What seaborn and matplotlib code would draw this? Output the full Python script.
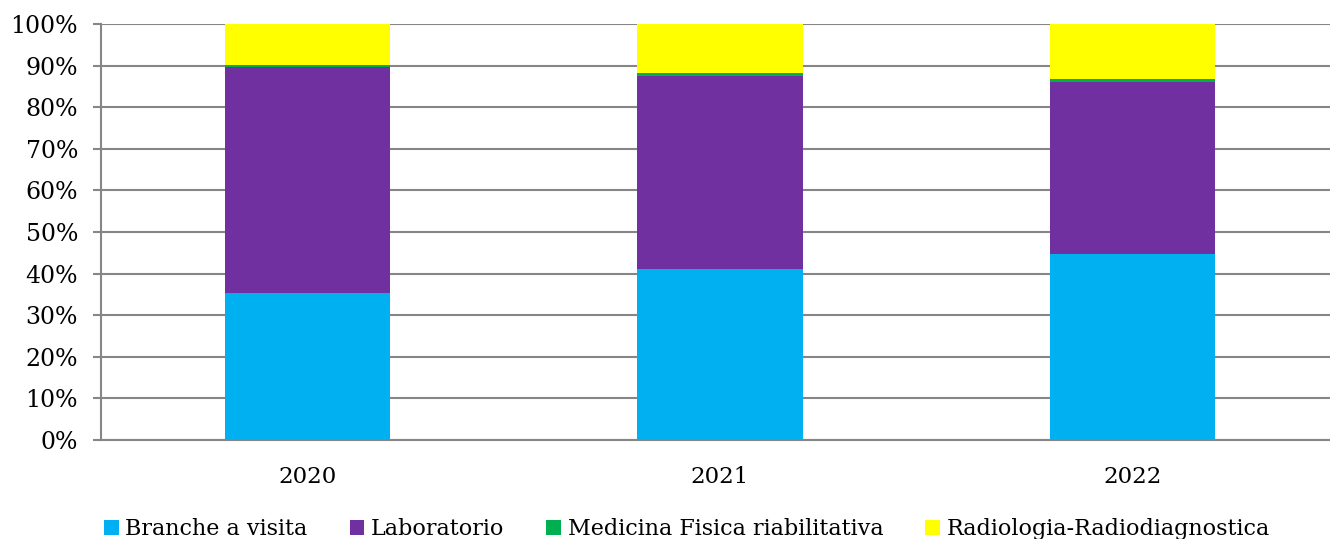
import matplotlib
matplotlib.use("Agg")
import matplotlib.pyplot as plt
import seaborn as sns
import numpy as np
import pandas as pd
from matplotlib.patches import Patch
from matplotlib.ticker import FixedLocator, PercentFormatter

years = ["2020", "2021", "2022"]
series = ["Branche a visita", "Laboratorio", "Medicina Fisica riabilitativa", "Radiologia-Radiodiagnostica"]
branche = [35.3, 41.1, 44.7]
laboratorio = [54.4, 46.5, 41.3]
medicina = [0.5, 0.6, 0.7]
radiologia = [9.8, 11.8, 13.3]
colors = ["#00B0F0", "#7030A0", "#00B050", "#FFFF00"]

sns.set_theme(style="white")
plt.rcParams["font.family"] = ["DejaVu Serif"]
plt.rcParams["text.color"] = "black"

fig = plt.figure(figsize=(13.30, 5.39), dpi=100)
ax = fig.add_axes([101 / 1330, 99 / 539, 1238 / 1330, 416 / 539])

values = [branche, laboratorio, medicina, radiologia]
df = pd.DataFrame({"year": years})
cum = np.zeros(len(years))
for name, vals in zip(series, values):
    cum = cum + np.array(vals)
    df[name] = cum

# draw cumulative totals from the top layer down so each segment shows its own share
for name, color in reversed(list(zip(series, colors))):
    sns.barplot(data=df, x="year", y=name, color=color, width=0.4,
                saturation=1, ax=ax, edgecolor="none", linewidth=0, zorder=3)

ax.set_xlim(-0.5, 2.5)
ax.set_ylim(0, 100)
ax.set_yticks(np.arange(0, 101, 10))
ax.yaxis.set_major_formatter(PercentFormatter(decimals=0))
ax.set_xlabel("")
ax.set_ylabel("")
ax.grid(axis="y", color="#868686", linewidth=1.5, zorder=0)
ax.grid(axis="x", visible=False)
ax.set_axisbelow(True)

for s in ["top", "right"]:
    ax.spines[s].set_visible(False)
for s in ["left", "bottom"]:
    ax.spines[s].set_color("#868686")
    ax.spines[s].set_linewidth(1.5)

ax.xaxis.set_minor_locator(FixedLocator([-0.5, 0.5, 1.5, 2.5]))
ax.tick_params(axis="x", which="major", length=0, pad=19, labelsize=16.5, colors="black")
ax.tick_params(axis="x", which="minor", length=6, width=1.5, color="#868686", direction="out")
ax.tick_params(axis="y", which="major", length=6, width=1.5, color="#868686",
               direction="out", labelsize=17, pad=10.5, labelcolor="black", left=True)

handles = [Patch(facecolor=c, edgecolor="none", label=n) for n, c in zip(series, colors)]
fig.legend(handles=handles, loc="center", bbox_to_anchor=(687 / 1330, 10 / 539), ncol=4,
           frameon=False, fontsize=16, handlelength=0.65, handleheight=0.65,
           handletextpad=0.3, columnspacing=1.9, borderaxespad=0, labelcolor="black")

fig.savefig("out.png", dpi=100)
